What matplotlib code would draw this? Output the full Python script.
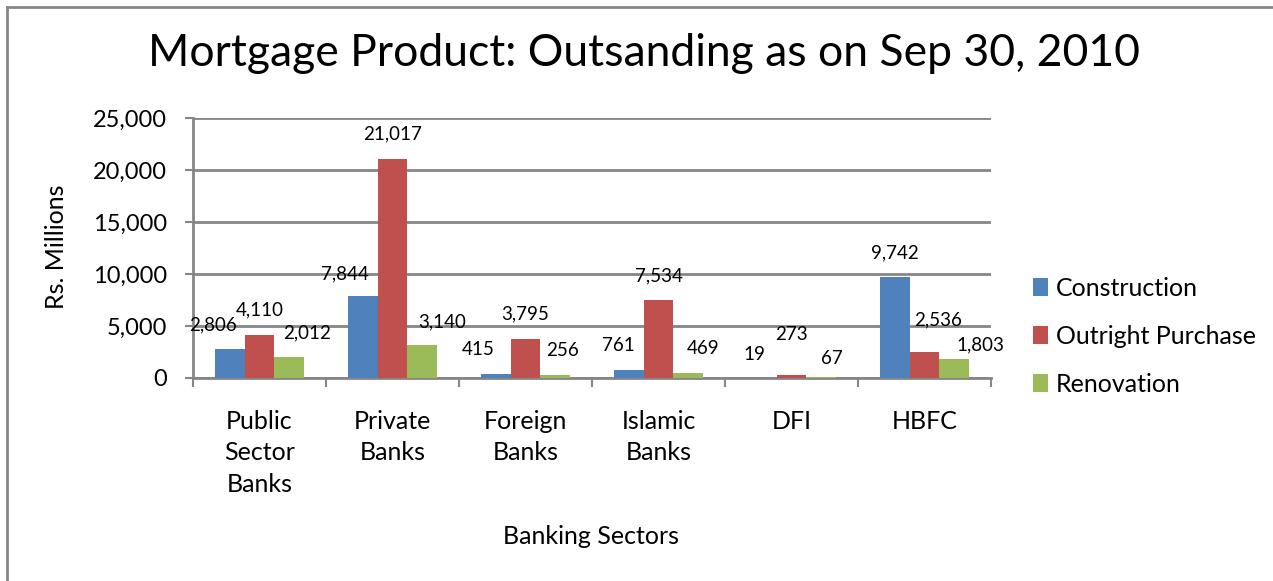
import numpy as np
import matplotlib
matplotlib.use("Agg")
import matplotlib.pyplot as plt
from matplotlib.lines import Line2D

plt.rcParams['font.family'] = ['Lato', 'DejaVu Sans']

sectors = ["Public\nSector\nBanks", "Private\nBanks", "Foreign\nBanks",
           "Islamic\nBanks", "DFI", "HBFC"]
construction = [2806, 7844, 415, 761, 19, 9742]
outright = [4110, 21017, 3795, 7534, 273, 2536]
renovation = [2012, 3140, 256, 469, 67, 1803]

series_names = ["Construction", "Outright Purchase", "Renovation"]
colors = ["#4F81BD", "#C0504D", "#9BBB59"]

# label nudges in pixels (dx, dy above bar top), one row per series
label_shift = [
    [(-17, 24), (-18, 23), (-18, 24), (-11, 25), (-8, 23), (0, 24)],
    [(0, 25), (0, 26), (0, 25), (0, 24), (0, 41), (14, 32)],
    [(18, 24), (20, 23), (7, 25), (15, 25), (11, 19), (26, 14)],
]

fig = plt.figure(figsize=(12.73, 5.81), dpi=100)
ax = fig.add_axes([193 / 1273, 1 - 378 / 581, (991 - 193) / 1273, 260 / 581])

x = np.arange(len(sectors))
w = 1 / 4.5
grid_c = "#868686"

for i, (vals, name, c) in enumerate(zip([construction, outright, renovation],
                                        series_names, colors)):
    bars = ax.bar(x + (i - 1) * w, vals, w, color=c, label=name, zorder=3)
    for b, v, (dx, dy) in zip(bars, vals, label_shift[i]):
        ax.annotate(f"{v:,}", (b.get_x() + b.get_width() / 2, v),
                    xytext=(dx, dy), textcoords="offset pixels",
                    ha="center", va="center", fontsize=13.5, color="black")

ax.set_xlim(-0.5, len(sectors) - 0.5)
ax.set_ylim(0, 25000)
ax.set_yticks(np.arange(0, 25001, 5000))
ax.set_yticklabels([f"{t:,}" for t in range(0, 25001, 5000)], fontsize=17)
ax.yaxis.grid(True, color=grid_c, linewidth=2, zorder=0)

# category boundaries carry the tick marks, names sit at the centres
ax.set_xticks(np.arange(len(sectors) + 1) - 0.5)
ax.set_xticklabels([])
ax.set_xticks(x, minor=True)
ax.set_xticklabels(sectors, minor=True, fontsize=18, linespacing=1.45)
ax.tick_params(axis="x", which="minor", length=0, pad=23)
ax.tick_params(axis="x", which="major", length=6.5, width=1.5, color=grid_c)
ax.tick_params(axis="y", length=6, width=1.5, color=grid_c, pad=12.5)

for s in ["top", "right"]:
    ax.spines[s].set_visible(False)
for s in ["left", "bottom"]:
    ax.spines[s].set_color(grid_c)
    ax.spines[s].set_linewidth(2)

fig.text(57 / 1273, 1 - 247 / 581, "Rs. Millions", fontsize=18,
         rotation=90, ha="center", va="center")
fig.text(591 / 1273, 1 - 536 / 581, "Banking Sectors", fontsize=18,
         ha="center", va="center")
fig.text(644 / 1273, 1 - 54 / 581,
         "Mortgage Product: Outsanding as on Sep 30, 2010",
         fontsize=32, ha="center", va="center")

ax.legend(loc="center left", bbox_to_anchor=(1.025, 0.16), frameon=False,
          fontsize=18, handlelength=0.6, handleheight=0.75, handletextpad=0.3,
          labelspacing=1.0)

# outer chart frame: left and top edges only
fig.add_artist(Line2D([7 / 1273, 7 / 1273], [0, 1 - 7 / 581],
                      color="#888888", linewidth=2))
fig.add_artist(Line2D([7 / 1273, 1], [1 - 7 / 581, 1 - 7 / 581],
                      color="#888888", linewidth=2))

fig.savefig("out.png", dpi=100)
